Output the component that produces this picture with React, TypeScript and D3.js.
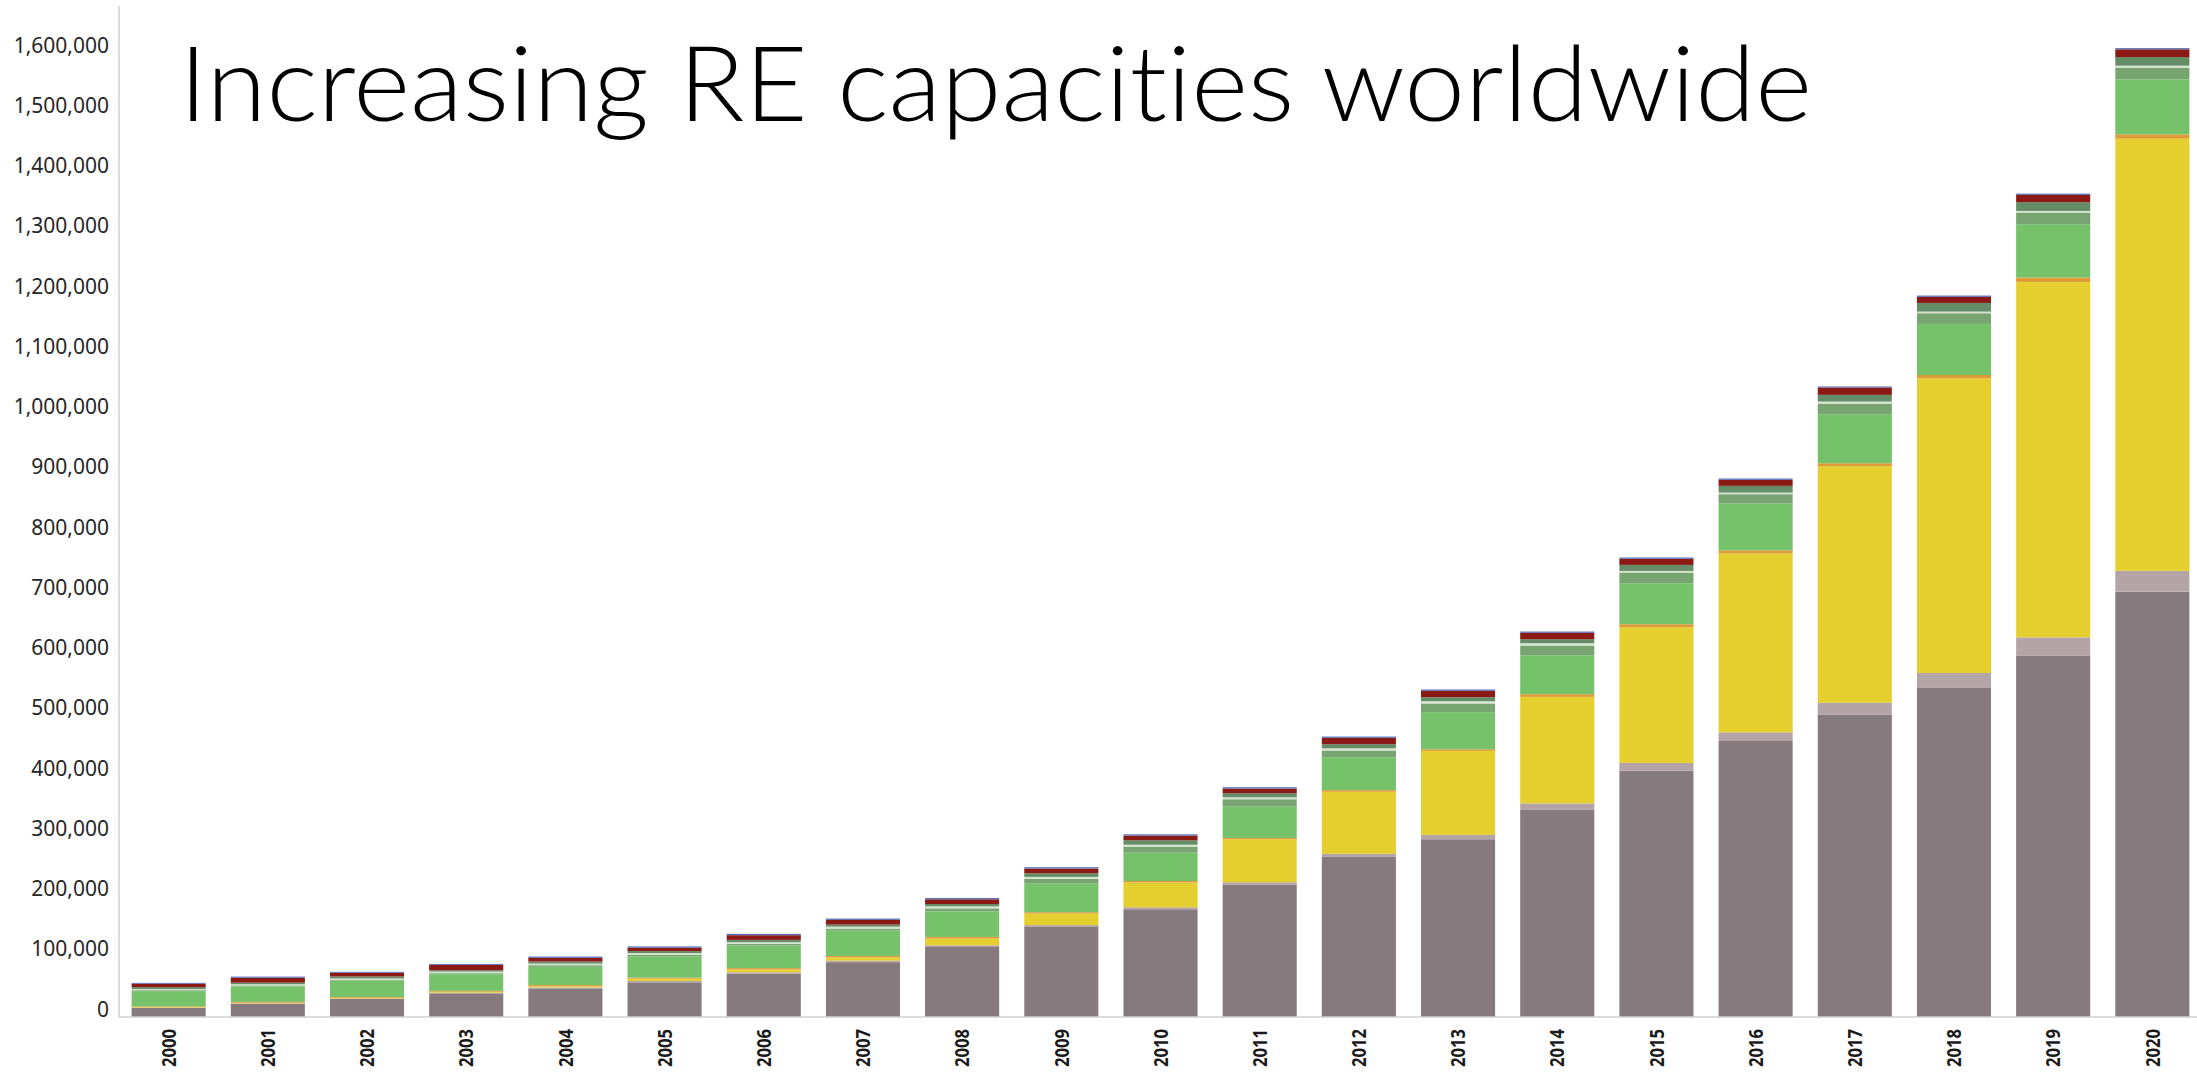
import React from "react";
import * as d3 from "d3";

// Installed capacity by year (MW), stacked bottom to top
const years = [
  "2000", "2001", "2002", "2003", "2004", "2005", "2006", "2007", "2008", "2009", "2010",
  "2011", "2012", "2013", "2014", "2015", "2016", "2017", "2018", "2019", "2020",
];

const windOnshore = [14800, 21900, 29600, 38900, 47000, 57000, 71000, 90000, 115000, 148000, 177000, 217000, 263000, 292000, 341000, 404700, 453400, 497000, 540500, 594000, 698800];
const windOffshore = [500, 500, 700, 1000, 1600, 2200, 2500, 2600, 2900, 3000, 3200, 4400, 5000, 7100, 9900, 12600, 14200, 19200, 24600, 29600, 34000];
const solarPV = [800, 1000, 1200, 1500, 1800, 3800, 4400, 5200, 11000, 19000, 41000, 70600, 102000, 138000, 175000, 223000, 294000, 388600, 484000, 584000, 710000];
const solarCSP = [1400, 1400, 1400, 1500, 2000, 1600, 2400, 2500, 2700, 2200, 2200, 2200, 2700, 2700, 4400, 4900, 4900, 4900, 5500, 7100, 7100];
const bioSolid = [25000, 25700, 26800, 27400, 30000, 35000, 37000, 41600, 42000, 47000, 46500, 51500, 54000, 61000, 64000, 67400, 77000, 80500, 84000, 87600, 90400];
const bioOther = [1500, 1200, 1200, 1600, 2700, 2700, 2900, 3300, 4900, 7700, 9900, 12000, 11000, 14200, 15900, 17500, 15300, 17500, 17500, 19200, 19200];
const bioLiquid = [2000, 2200, 2400, 2700, 2700, 2700, 2700, 3300, 3300, 3300, 3300, 3300, 3800, 3800, 3800, 2700, 2700, 3300, 2700, 2700, 3300];
const biogas = [3000, 2500, 3300, 2200, 3300, 3300, 3800, 3300, 3800, 6000, 7100, 6600, 6600, 6600, 6600, 9900, 11000, 11000, 14200, 14200, 14200];
const geothermal = [5500, 8000, 6000, 8800, 6000, 5500, 7700, 7700, 7700, 7700, 7700, 7700, 10400, 10400, 10400, 9900, 9900, 12000, 9900, 12000, 12600];
const marine = [1600, 2000, 1600, 1600, 2200, 2200, 2200, 2200, 2200, 2200, 2200, 2200, 2200, 2200, 2200, 2200, 2200, 1800, 2200, 2200, 2000];

const series = [
  { key: "windOnshore", values: windOnshore, color: "#877a7e" },
  { key: "windOffshore", values: windOffshore, color: "#b4a4a8" },
  { key: "solarPV", values: solarPV, color: "#e4cf2f" },
  { key: "solarCSP", values: solarCSP, color: "#df9a35" },
  { key: "bioSolid", values: bioSolid, color: "#76c26b" },
  { key: "bioOther", values: bioOther, color: "#78a472" },
  { key: "bioLiquid", values: bioLiquid, color: "#d4e3cc" },
  { key: "biogas", values: biogas, color: "#648c66" },
  { key: "geothermal", values: geothermal, color: "#8b1a14" },
  { key: "marine", values: marine, color: "#5d6fb8" },
];

const yTicks = d3.range(0, 1600001, 100000);

const W = 2197;
const H = 1072;

export default function App() {
  const x = d3
    .scaleBand<string>()
    .domain(years)
    .range([119, 2202])
    .paddingInner(0.253)
    .paddingOuter(0.127);
  const y = d3.scaleLinear().domain([0, 1600000]).range([1017, 43]);
  // tick labels sit slightly above the plot baseline
  const yLabel = d3.scaleLinear().domain([0, 1600000]).range([1009, 45]);

  const rows = years.map((yr, i) => {
    const r: Record<string, any> = { year: yr };
    series.forEach((s) => (r[s.key] = s.values[i]));
    return r;
  });
  const stacked = d3.stack<any>().keys(series.map((s) => s.key))(rows);
  const fmt = d3.format(",");

  return (
    <svg
      width={W}
      height={H}
      style={{ position: "absolute", left: 0, top: 0, background: "#fff" }}
    >
      {/* stacked bars */}
      {stacked.map((layer, li) => (
        <g key={layer.key} fill={series[li].color}>
          {layer.map((d, i) => (
            <rect
              key={years[i]}
              x={x(years[i])}
              width={x.bandwidth()}
              y={y(d[1])}
              height={Math.max(0, y(d[0]) - y(d[1]))}
            />
          ))}
        </g>
      ))}

      {/* axes */}
      <line x1={119} x2={119} y1={6} y2={1017} stroke="#d0d0d0" strokeWidth={1.5} />
      <line x1={119} x2={W} y1={1017} y2={1017} stroke="#d0d0d0" strokeWidth={1.5} />

      {yTicks.map((t) => (
        <text
          key={t}
          x={109}
          y={yLabel(t)}
          dy="0.36em"
          textAnchor="end"
          fontFamily="'Noto Sans', 'Open Sans', sans-serif"
          fontSize={21}
          fill="#262626"
        >
          {fmt(t)}
        </text>
      ))}

      {years.map((yr) => {
        const cx = (x(yr) as number) + x.bandwidth() / 2;
        return (
          <text
            key={yr}
            transform={`translate(${cx},1029) rotate(-90)`}
            dy="0.36em"
            textAnchor="end"
            fontFamily="'Noto Sans', 'Open Sans', sans-serif"
            fontWeight={700}
            fontSize={20}
            textLength={38}
            lengthAdjust="spacingAndGlyphs"
            fill="#1a1a1a"
          >
            {yr}
          </text>
        );
      })}

      <text
        x={179}
        y={121}
        fontFamily="Lato, 'Open Sans', sans-serif"
        fontWeight={300}
        fontSize={105}
        fill="#000"
        textLength={1633}
        lengthAdjust="spacingAndGlyphs"
        style={{ fontVariantLigatures: "none" }}
      >
        Increasing RE capacities worldwide
      </text>
    </svg>
  );
}
